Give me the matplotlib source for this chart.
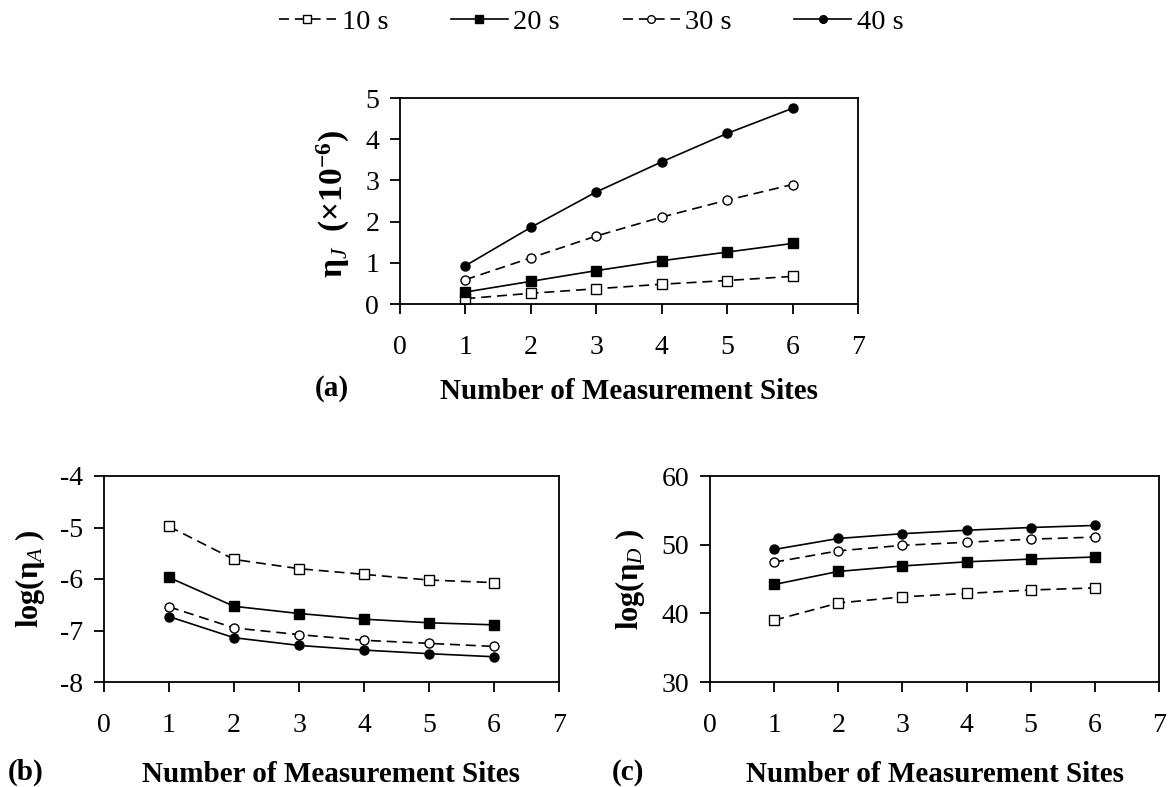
import matplotlib
matplotlib.use("Agg")
import matplotlib.pyplot as plt

plt.rcParams['font.family'] = ['Liberation Serif', 'DejaVu Serif']
plt.rcParams['mathtext.fontset'] = 'custom'
plt.rcParams['mathtext.rm'] = 'Liberation Serif'
plt.rcParams['mathtext.bf'] = 'Liberation Serif:bold'
plt.rcParams['mathtext.it'] = 'Liberation Serif:italic'
plt.rcParams['mathtext.bfit'] = 'Liberation Serif:bold:italic'
plt.rcParams['axes.unicode_minus'] = False

# Number of measurement sites
sites = [1, 2, 3, 4, 5, 6]
durations = ['10 s', '20 s', '30 s', '40 s']

# (a) eta_J (x 1e-6)
eta_j_10 = [0.13, 0.26, 0.37, 0.48, 0.57, 0.67]
eta_j_20 = [0.29, 0.55, 0.81, 1.05, 1.26, 1.47]
eta_j_30 = [0.59, 1.12, 1.65, 2.11, 2.52, 2.90]
eta_j_40 = [0.93, 1.86, 2.72, 3.45, 4.14, 4.75]

# (b) log(eta_A)
log_a_10 = [-4.98, -5.62, -5.80, -5.91, -6.02, -6.07]
log_a_20 = [-5.97, -6.53, -6.67, -6.78, -6.85, -6.89]
log_a_30 = [-6.54, -6.95, -7.08, -7.19, -7.25, -7.31]
log_a_40 = [-6.73, -7.14, -7.29, -7.38, -7.45, -7.51]

# (c) log(eta_D)
log_d_10 = [39.0, 41.5, 42.4, 42.9, 43.4, 43.7]
log_d_20 = [44.2, 46.1, 46.9, 47.5, 47.9, 48.2]
log_d_30 = [47.45, 49.1, 49.9, 50.35, 50.8, 51.1]
log_d_40 = [49.3, 50.9, 51.6, 52.1, 52.5, 52.8]

x_ticks = [0, 1, 2, 3, 4, 5, 6, 7]
y_ticks_a = [0, 1, 2, 3, 4, 5]
y_ticks_b = [-8, -7, -6, -5, -4]
y_ticks_c = [30, 40, 50, 60]

styles = [
    dict(ls=(0, (6, 3.5)), marker='s', mfc='white', ms=6.5),
    dict(ls='-', marker='s', mfc='black', ms=6.5),
    dict(ls=(0, (6, 3.5)), marker='o', mfc='white', ms=6.5),
    dict(ls='-', marker='o', mfc='black', ms=6.5),
]

W, H = 1171, 787
fig = plt.figure(figsize=(W / 100, H / 100), dpi=100)

def px_axes(l, r, t, b):
    return fig.add_axes([l / W, 1 - b / H, (r - l) / W, (b - t) / H])

ax_a = px_axes(400, 858, 98, 304)
ax_b = px_axes(104, 559, 476, 682)
ax_c = px_axes(710, 1159, 476, 682)

FS = 20
panels = [
    (ax_a, [eta_j_10, eta_j_20, eta_j_30, eta_j_40], y_ticks_a),
    (ax_b, [log_a_10, log_a_20, log_a_30, log_a_40], y_ticks_b),
    (ax_c, [log_d_10, log_d_20, log_d_30, log_d_40], y_ticks_c),
]

handles = []
for ax, series, yt in panels:
    for vals, st, lab in zip(series, styles, durations):
        ln, = ax.plot(sites, vals, color='black', lw=1.2, mec='black',
                      mew=1.0, label=lab, **st)
        if ax is ax_a:
            handles.append(ln)
    ax.set_xlim(0, 7)
    ax.set_ylim(yt[0], yt[-1])
    ax.set_xticks(x_ticks)
    ax.set_yticks(yt)
    for s in ax.spines.values():
        s.set_linewidth(1.3)
    ax.tick_params(direction='out', length=7, width=1.3, labelsize=FS)
    ax.tick_params(axis='x', pad=15)
    ax.tick_params(axis='y', pad=8)

# axis titles
ax_a.set_xlabel('Number of Measurement Sites', fontsize=21,
                fontweight='bold', labelpad=13)
for ax in (ax_b, ax_c):
    ax.set_xlabel('Number of Measurement Sites', fontsize=21,
                  fontweight='bold', labelpad=17)

fig.text(333 / W, 1 - 204 / H, r'$\mathbf{\eta}_{\mathit{J}}\ \ \mathbf{(\times 10^{-6})}$',
         rotation=90, ha='center', va='center', fontsize=24)
fig.text(30 / W, 1 - 579 / H, r'$\mathbf{log(\eta}_{\mathit{A}}\ \mathbf{)}$',
         rotation=90, ha='center', va='center', fontsize=22)
fig.text(630 / W, 1 - 579 / H, r'$\mathbf{log(\eta}_{\mathit{D}}\ \mathbf{)}$',
         rotation=90, ha='center', va='center', fontsize=22)

fig.text(332 / W, 1 - 389 / H, '(a)', fontsize=21, fontweight='bold',
         ha='center', va='center')
fig.text(26 / W, 1 - 772 / H, '(b)', fontsize=21, fontweight='bold',
         ha='center', va='center')
fig.text(628 / W, 1 - 772 / H, '(c)', fontsize=21, fontweight='bold',
         ha='center', va='center')

fig.legend(handles=handles, labels=durations, loc='center',
           bbox_to_anchor=(0.505, 1 - 22 / H), ncol=4, frameon=False,
           fontsize=20.5, handlelength=2.0, handletextpad=0.2,
           columnspacing=2.2, markerscale=0.85)

fig.savefig('out.png', dpi=100)
